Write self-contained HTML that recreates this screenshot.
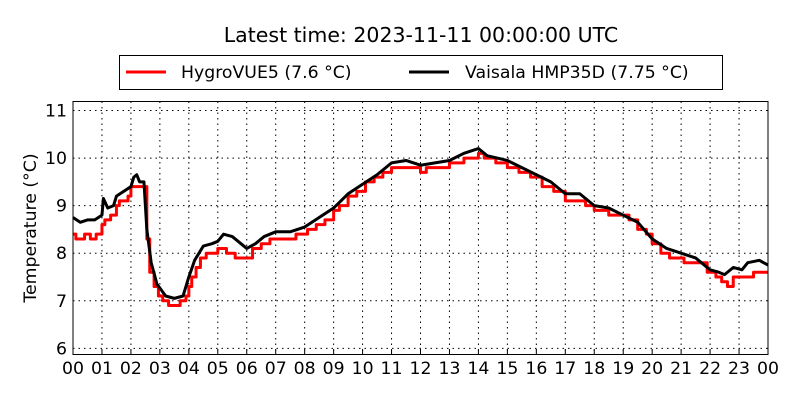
<!DOCTYPE html>
<html><head><meta charset="utf-8"><style>
body{margin:0;background:#fff;}
svg{display:block;font-family:"DejaVu Sans","Liberation Sans",sans-serif;}
</style></head><body>
<svg width="800" height="400" viewBox="0 0 800 400">
<rect width="800" height="400" fill="#fff"/>
<text x="421" y="42" text-anchor="middle" font-size="20.5">Latest time: 2023-11-11 00:00:00 UTC</text>
<g>
<rect x="119.5" y="55.5" width="603" height="34" fill="#fff" stroke="#000"/>
<g>
<line x1="126" y1="72" x2="166" y2="72" stroke="#f00" stroke-width="3"/>
<text x="181" y="78" font-size="17.3">HygroVUE5 (7.6 °C)</text></g>
<g>
<line x1="409" y1="72" x2="449" y2="72" stroke="#000" stroke-width="3"/>
<text x="465" y="78" font-size="17.3">Vaisala HMP35D (7.75 °C)</text></g>
</g>
<g id="grid"></g>
<g id="series"></g>
<rect x="73" y="101.5" width="695" height="253" fill="none" stroke="#000"/>
<g id="xt"></g>
<g id="yt"></g>
<text transform="translate(36,228) rotate(-90)" text-anchor="middle" font-size="17.3">Temperature (°C)</text>
</svg>
<script>
const xTickLabels=["00","01","02","03","04","05","06","07","08","09","10","11","12","13","14","15","16","17","18","19","20","21","22","23","00"];
const yTickValues=[6,7,8,9,10,11];
const hmpHours=[0,0.25,0.5,0.75,1.0,1.05,1.2,1.4,1.5,1.75,2.0,2.1,2.2,2.3,2.45,2.55,2.7,2.9,3.2,3.5,3.8,4.0,4.2,4.5,4.8,5.0,5.2,5.5,5.8,6.0,6.3,6.6,7.0,7.5,8.0,8.5,9.0,9.5,10.0,10.5,11.0,11.5,12.0,12.5,13.0,13.5,14.0,14.3,15.0,15.5,16.0,16.5,17.0,17.5,18.0,18.5,19.0,19.5,20.0,20.5,21.0,21.5,22.0,22.3,22.5,22.8,23.1,23.3,23.7,24.0];
const hmpValues=[8.75,8.65,8.7,8.7,8.8,9.15,8.95,9.0,9.2,9.3,9.4,9.6,9.65,9.5,9.5,8.5,7.8,7.35,7.1,7.05,7.1,7.5,7.85,8.15,8.2,8.25,8.4,8.35,8.2,8.1,8.2,8.35,8.45,8.45,8.55,8.75,8.95,9.25,9.45,9.65,9.9,9.95,9.85,9.9,9.95,10.1,10.2,10.05,9.95,9.8,9.65,9.5,9.25,9.25,9.0,8.95,8.8,8.65,8.3,8.1,8.0,7.9,7.65,7.6,7.55,7.7,7.65,7.8,7.85,7.75];
const hvHours=[0,0.1,0.4,0.6,0.8,1.0,1.1,1.3,1.5,1.6,1.9,2.0,2.1,2.45,2.55,2.65,2.8,2.95,3.1,3.3,3.7,3.9,4.0,4.1,4.25,4.4,4.6,5.0,5.3,5.6,5.8,6.2,6.5,6.8,7.2,7.7,8.1,8.4,8.7,9.0,9.2,9.5,9.8,10.1,10.4,10.7,11.0,11.5,12.0,12.2,13.0,13.5,14.0,14.2,14.6,15.0,15.4,15.8,16.2,16.6,17.0,17.4,17.7,18.0,18.5,18.9,19.2,19.5,19.8,20.0,20.3,20.6,21.1,21.6,21.9,22.2,22.4,22.6,22.8,23.2,23.5,23.7,24.0];
const hvValues=[8.4,8.3,8.4,8.3,8.4,8.6,8.7,8.8,9.0,9.1,9.2,9.4,9.4,9.4,8.3,7.6,7.3,7.1,7.0,6.9,7.0,7.1,7.3,7.5,7.7,7.9,8.0,8.1,8.0,7.9,7.9,8.1,8.2,8.3,8.3,8.4,8.5,8.6,8.7,8.9,9.0,9.2,9.3,9.5,9.6,9.7,9.8,9.8,9.7,9.8,9.9,10.0,10.1,10.0,9.9,9.8,9.7,9.6,9.4,9.3,9.1,9.1,9.0,8.9,8.8,8.8,8.7,8.5,8.4,8.2,8.0,7.9,7.8,7.8,7.6,7.5,7.4,7.3,7.5,7.5,7.6,7.6,7.6];
const X0=73,X1=768,Y0=354.5,Y1=101.5,YMIN=5.87,YMAX=11.19;
const xs=h=>X0+(X1-X0)*h/24;
const ys=v=>Y0-(Y0-Y1)*(v-YMIN)/(YMAX-YMIN);
const NS="http://www.w3.org/2000/svg";
const grid=document.getElementById('grid'),xt=document.getElementById('xt'),yt=document.getElementById('yt'),ser=document.getElementById('series');
function mk(t,a,p){const e=document.createElementNS(NS,t);for(const k in a)e.setAttribute(k,a[k]);p.appendChild(e);return e;}
xTickLabels.forEach((lab,i)=>{const x=xs(i);
 if(i>0&&i<24){const g=mk('line',{x1:x,x2:x,y1:Y1,y2:Y0,stroke:'#000','stroke-dasharray':'1.5,4','stroke-width':1},grid);
 
 }
 const t=mk('line',{x1:x,x2:x,y1:Y0,y2:Y0-5,stroke:'#000'},xt);
 
 
 const tx=mk('text',{x:x,y:374,'text-anchor':'middle','font-size':17.3},xt);tx.textContent=lab;
 
 });
yTickValues.forEach(v=>{const y=ys(v);
 const g=mk('line',{x1:X0,x2:X1,y1:y,y2:y,stroke:'#000','stroke-dasharray':'1.5,4','stroke-width':1},grid);
 
 
 const tx=mk('text',{x:67,y:y+6,'text-anchor':'end','font-size':17.3},yt);tx.textContent=v;
 
 });
let d='';hvHours.forEach((h,i)=>{const x=xs(h),y=ys(hvValues[i]);if(i===0)d='M'+x+','+y;else d+=' H'+x+' V'+y;});
const r=mk('path',{d:d,fill:'none',stroke:'#f00','stroke-width':3,'stroke-linejoin':'round'},ser);


const b=mk('path',{d:hmpHours.map((h,i)=>(i?'L':'M')+xs(h)+','+ys(hmpValues[i])).join(' '),fill:'none',stroke:'#000','stroke-width':3,'stroke-linejoin':'round'},ser);


</script>
</body></html>
